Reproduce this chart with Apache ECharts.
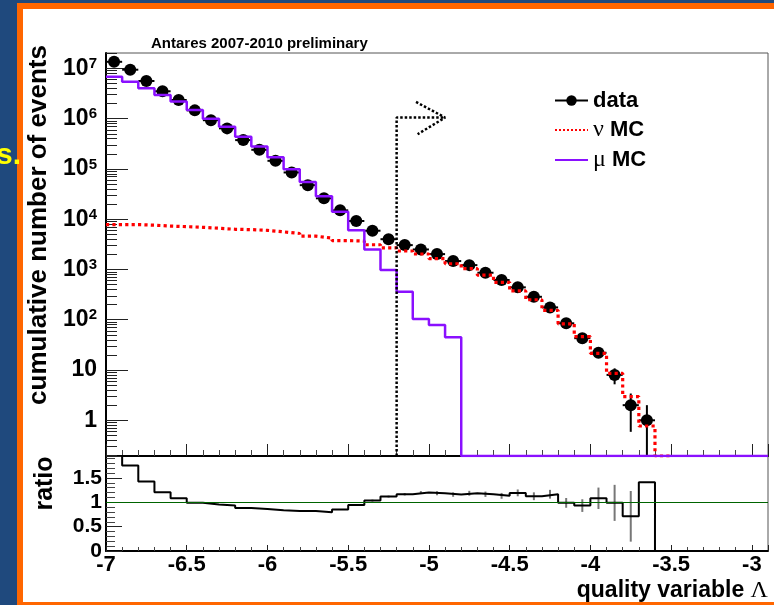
<!DOCTYPE html>
<html><head><meta charset="utf-8">
<script src="https://cdn.jsdelivr.net/npm/echarts@6/dist/echarts.min.js"></script>
<style>
html,body{margin:0;padding:0;width:774px;height:605px;overflow:hidden;background:#1f497d;}
#orange{position:absolute;left:17px;top:3px;width:757px;height:602px;background:#ff6600;}
#white{position:absolute;left:23px;top:9px;width:751px;height:593px;background:#ffffff;}
#chart{position:absolute;left:0;top:0;width:774px;height:605px;}
</style></head><body>
<div id="orange"></div><div id="white"></div><div id="chart"></div>
<script>
// ---- data (bins of width 0.1 in the quality variable) ----
const binCenters = [-6.95,-6.85,-6.75,-6.65,-6.55,-6.45,-6.35,-6.25,-6.15,-6.05,
  -5.95,-5.85,-5.75,-5.65,-5.55,-5.45,-5.35,-5.25,-5.15,-5.05,
  -4.95,-4.85,-4.75,-4.65,-4.55,-4.45,-4.35,-4.25,-4.15,-4.05,
  -3.95,-3.85,-3.75,-3.65,-3.55,-3.45,-3.35,-3.25,-3.15,-3.05,-2.95];
const dataCounts = [1.35e7,9.4e6,5.6e6,3.5e6,2.35e6,1.46e6,9.3e5,6.4e5,3.74e5,2.4e5,
  1.45e5,8.5e4,4.75e4,2.6e4,1.5e4,9.2e3,5.9e3,4.0e3,3.05e3,2.5e3,
  2.02e3,1.47e3,1.22e3,861,617,441,286,176,85,43,22,8,2,1];
const dataErrors = [3700,3070,2370,1870,1530,1210,964,800,612,490,
  381,292,218,161,122,96,77,63,55,50,
  45,38,35,29,25,21,17,13,9.2,6.6,4.7,2.8,1.41,1];
const nuMC = [7.8e3,7.8e3,7.6e3,7.3e3,7.1e3,6.9e3,6.6e3,6.3e3,6.2e3,6.0e3,
  5.6e3,5.2e3,4.6e3,4.2e3,3.75e3,3.67e3,3.1e3,2.7e3,2.33e3,2.03e3,
  1.64e3,1.3e3,1.04e3,770,555,374,250,154,83,46,21.5,8.6,2.95,0.77,0];
const muMC = [6.8e6,5.4e6,4.0e6,2.95e6,2.18e6,1.48e6,1.0e6,6.9e5,4.35e5,2.78e5,
  1.7e5,9.8e4,5.5e4,2.85e4,1.4e4,6.0e3,2.5e3,977,360,103,
  78.5,44.7,0,0,0,0,0,0,0,0,0,0,0,0,0,0,0,0,0,0,0];
const ratioValues = [2.0,1.755,1.426,1.206,1.082,0.988,0.953,0.932,0.885,0.864,
  0.835,0.823,0.823,0.794,0.85,0.946,1.035,1.117,1.165,1.2,
  1.185,1.158,1.185,1.165,1.132,1.193,1.124,1.165,0.988,0.932,
  1.082,0.988,0.712,1.412,0,0,0,0,0,0,0];
const ratioErrors = [0,0,0,0,0,0,0,0,0,0,0,0,0,0,0,0.01,0.02,0.02,0.025,0.03,
  0.04,0.045,0.05,0.055,0.06,0.07,0.08,0.09,0.1,0.13,0.22,0.37,0.52,0,0,0,0,0,0,0,0];
const yDecades = [1,10,100,1e3,1e4,1e5,1e6,1e7];
const yMinorMultipliers = [2,3,4,5,6,7,8,9];
const ratioTickStep = 0.5;
const xTickStep = 0.5;
const cutPath = [[-5.2, 0], [-5.2, 1.05e6], [-4.9, 1.05e6]];
const arrowHead = [[-5.08, 2.15e6], [-4.9, 1.05e6], [-5.07, 4.9e5]];
const seriesNames = ['data', 'ν MC', 'μ MC'];

// ---- helpers ----
const X_MIN = -7, X_MAX = -2.9;
const Y_MIN = 0.195, Y_MAX = 2.02e7;
const LOG_MIN = Math.log10(Y_MIN), LOG_MAX = Math.log10(Y_MAX);
const HALF = 0.05;
const ly = v => (v > 0 ? Math.max(Math.log10(v), LOG_MIN) : LOG_MIN);
function histPoints(vals, tf) {
  const pts = vals.map((v, i) => [binCenters[i] - HALF, tf(v)]);
  const n = vals.length;
  pts.push([binCenters[n - 1] + HALF, tf(vals[n - 1])]);
  return pts;
}
const minorLogs = [];
for (let d = -1; d <= 7; d++) {
  yMinorMultipliers.forEach(m => {
    const v = Math.log10(m * Math.pow(10, d));
    if (v > LOG_MIN && v < LOG_MAX) minorLogs.push(v);
  });
}
const decadeLogs = yDecades.map(v => Math.round(Math.log10(v)));

const FONT = 'Liberation Sans';
const chart = echarts.init(document.getElementById('chart'), null, {renderer: 'canvas'});

const dataPoints = dataCounts.map((v, i) => [binCenters[i], ly(v)]);
const dataErrItems = dataCounts.map((v, i) => [binCenters[i], ly(v), ly(v - dataErrors[i]), ly(v + dataErrors[i])]);
const ratioErrItems = [];
ratioValues.forEach((v, i) => { if (ratioErrors[i] > 0) ratioErrItems.push([binCenters[i], v, v - ratioErrors[i], v + ratioErrors[i]]); });

function errRender(color, withH) {
  return function (params, api) {
    const x = api.value(0), y = api.value(1), lo = api.value(2), hi = api.value(3);
    const children = [];
    const a = api.coord([x, lo]), b = api.coord([x, hi]);
    children.push({type: 'line', shape: {x1: a[0], y1: a[1], x2: b[0], y2: b[1]}, style: {stroke: color, lineWidth: 2}});
    if (withH) {
      const l = api.coord([x - HALF, y]), r = api.coord([x + HALF, y]);
      children.push({type: 'line', shape: {x1: l[0], y1: l[1], x2: r[0], y2: r[1]}, style: {stroke: color, lineWidth: 2}});
    }
    return {type: 'group', children: children};
  };
}

const option = {
  animation: false,
  backgroundColor: 'transparent',
  textStyle: {fontFamily: FONT},
  title: {
    text: 'Antares 2007-2010 preliminary', left: 146, top: 31,
    textStyle: {fontFamily: FONT, fontSize: 15, fontWeight: 'bold', color: '#000'}
  },
  graphic: [{
    type: 'text', left: -4, top: 141, silent: true,
    style: {text: 's.', fill: '#ffff00', font: 'bold 30px "Liberation Sans"'}
  }],
  legend: {
    orient: 'vertical', left: 549, top: 84, itemWidth: 33, itemHeight: 13, itemGap: 6,
    data: [
      {name: 'data', lineStyle: {opacity: 1, width: 2, color: '#000', type: 'solid'}},
      {name: 'ν MC', itemStyle: {opacity: 0}},
      {name: 'μ MC', itemStyle: {opacity: 0}}
    ],
    formatter: function (name) {
      if (name === 'data') return '{b|data}';
      return '{g|' + name.charAt(0) + '} {b|MC}';
    },
    textStyle: {
      color: '#000', fontSize: 22, lineHeight: 23,
      rich: {
        b: {fontFamily: FONT, fontSize: 22, fontWeight: 'bold', color: '#000', lineHeight: 23},
        g: {fontFamily: 'Liberation Serif', fontSize: 24, color: '#000', lineHeight: 23}
      }
    }
  },
  grid: [
    {left: 106, top: 53, width: 662, height: 403, show: true, borderColor: '#555', borderWidth: 1, backgroundColor: 'transparent'},
    {left: 106, top: 456, width: 662, height: 95, show: true, borderColor: '#555', borderWidth: 1, backgroundColor: 'transparent'}
  ],
  xAxis: [
    {
      type: 'value', gridIndex: 0, min: X_MIN, max: X_MAX, interval: xTickStep,
      axisLine: {onZero: false, lineStyle: {color: '#000', width: 2}},
      axisTick: {inside: true, length: 12, lineStyle: {color: '#222', width: 1}},
      minorTick: {show: true, splitNumber: 5, length: 6, lineStyle: {color: '#444', width: 1}},
      axisLabel: {show: false}, splitLine: {show: false}
    },
    {
      type: 'value', gridIndex: 1, min: X_MIN, max: X_MAX, interval: xTickStep,
      axisLine: {onZero: false, lineStyle: {color: '#000', width: 2}},
      axisTick: {inside: true, length: 6, lineStyle: {color: '#222', width: 1}},
      minorTick: {show: true, splitNumber: 5, length: 4, lineStyle: {color: '#444', width: 1}},
      axisLabel: {show: true, margin: 3, showMaxLabel: false, color: '#000', fontFamily: FONT, fontSize: 22, fontWeight: 'bold'},
      splitLine: {show: false},
      name: '{b|quality variable }{g|Λ}', nameLocation: 'end', nameGap: 0,
      nameTextStyle: {
        align: 'right', verticalAlign: 'top', padding: [28, 0, 0, 0],
        rich: {
          b: {fontFamily: FONT, fontSize: 23, fontWeight: 'bold', color: '#000'},
          g: {fontFamily: 'Liberation Serif', fontSize: 24, color: '#000'}
        }
      }
    }
  ],
  yAxis: [
    {
      type: 'value', gridIndex: 0, position: 'left', min: LOG_MIN, max: LOG_MAX,
      axisLine: {onZero: false, lineStyle: {color: '#000', width: 2}},
      axisTick: {inside: true, length: 22, customValues: decadeLogs, lineStyle: {color: '#222', width: 1}},
      axisLabel: {
        customValues: decadeLogs, margin: 9,
        formatter: function (v) {
          const n = Math.round(v);
          if (n === 0) return '{b|1}';
          if (n === 1) return '{b|10}';
          return '{b|10}{s|' + n + '}';
        },
        rich: {
          b: {fontFamily: FONT, fontSize: 23, fontWeight: 'bold', color: '#000', lineHeight: 24},
          s: {fontFamily: FONT, fontSize: 15, fontWeight: 'bold', color: '#000', verticalAlign: 'top', lineHeight: 24}
        }
      },
      splitLine: {show: false},
      name: 'cumulative number of events', nameLocation: 'middle', nameRotate: 90, nameGap: 48,
      nameTextStyle: {fontFamily: FONT, fontSize: 26, fontWeight: 'bold', color: '#000', padding: [0, 0, 0, 59]}
    },
    {
      type: 'value', gridIndex: 0, position: 'left', min: LOG_MIN, max: LOG_MAX,
      axisLine: {show: false, onZero: false},
      axisTick: {inside: true, length: 11, customValues: minorLogs, lineStyle: {color: '#222', width: 1}},
      axisLabel: {show: false}, splitLine: {show: false}
    },
    {
      type: 'value', gridIndex: 1, position: 'left', min: 0, max: 1.95, interval: ratioTickStep,
      axisLine: {onZero: false, lineStyle: {color: '#000', width: 2}},
      axisTick: {inside: true, length: 16, lineStyle: {color: '#222', width: 1}},
      minorTick: {show: true, splitNumber: 5, length: 9, lineStyle: {color: '#444', width: 1}},
      axisLabel: {margin: 4, showMaxLabel: false, color: '#000', fontFamily: FONT, fontSize: 21, fontWeight: 'bold'},
      splitLine: {show: false},
      name: 'ratio', nameLocation: 'middle', nameRotate: 90, nameGap: 48,
      nameTextStyle: {fontFamily: FONT, fontSize: 25, fontWeight: 'bold', color: '#000', padding: [0, 0, 0, 40]}
    }
  ],
  series: [
    {
      name: 'data-errors', type: 'custom', xAxisIndex: 0, yAxisIndex: 0, clip: true, z: 2,
      renderItem: errRender('#000', true), encode: {x: 0, y: 1}, data: dataErrItems, silent: true
    },
    {
      name: seriesNames[0], type: 'line', xAxisIndex: 0, yAxisIndex: 0, z: 3,
      data: dataPoints, symbol: 'circle', symbolSize: 12, showAllSymbol: true,
      itemStyle: {color: '#000'}, lineStyle: {opacity: 0, width: 2, color: '#000'}, clip: true
    },
    {
      name: seriesNames[1], type: 'line', xAxisIndex: 0, yAxisIndex: 0, z: 4,
      data: histPoints(nuMC, ly), step: 'end', symbol: 'none', clip: true,
      itemStyle: {color: '#ff0000'}, lineStyle: {color: '#ff0000', width: 3.2, type: 'dotted'}
    },
    {
      name: seriesNames[2], type: 'line', xAxisIndex: 0, yAxisIndex: 0, z: 5,
      data: histPoints(muMC, ly), step: 'end', symbol: 'none', clip: true,
      itemStyle: {color: '#8a10ff'}, lineStyle: {color: '#8a10ff', width: 2.5}
    },
    {
      name: 'cut', type: 'line', xAxisIndex: 0, yAxisIndex: 0, z: 6, symbol: 'none',
      data: cutPath.map(p => [p[0], ly(p[1])]), lineStyle: {color: '#000', width: 2.5, type: [2.5, 2]}, silent: true
    },
    {
      name: 'arrow', type: 'line', xAxisIndex: 0, yAxisIndex: 0, z: 6, symbol: 'none',
      data: arrowHead.map(p => [p[0], ly(p[1])]), lineStyle: {color: '#000', width: 2.5, type: [2.5, 2]}, silent: true
    },
    {
      name: 'ratio', type: 'line', xAxisIndex: 1, yAxisIndex: 2, z: 4,
      data: histPoints(ratioValues, v => v), step: 'end', symbol: 'none', clip: true,
      lineStyle: {color: '#000', width: 2},
      markLine: {
        silent: true, symbol: 'none', label: {show: false},
        lineStyle: {color: '#006400', width: 1, type: 'solid'},
        data: [{yAxis: 1}]
      }
    },
    {
      name: 'ratio-errors', type: 'custom', xAxisIndex: 1, yAxisIndex: 2, clip: true, z: 3,
      renderItem: errRender('#777', false), encode: {x: 0, y: 1}, data: ratioErrItems, silent: true
    }
  ]
};
chart.setOption(option);
</script>
</body></html>
